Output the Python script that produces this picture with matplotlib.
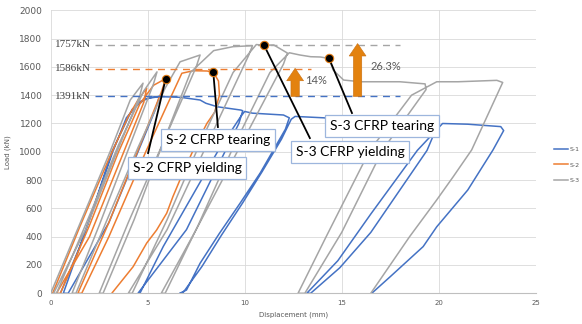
import matplotlib
matplotlib.use("Agg")
import matplotlib.pyplot as plt

# Load-displacement paths (x in mm, y in kN)
s1_x = [0.5, 1.5, 2.5, 3.2, 3.9, 4.6, 5.2, 5.6, 5.4, 3.0, 0.9, 0.65, 2.0, 3.15, 4.2, 4.9, 5.6, 6.7, 7.7,
        8.0, 8.6, 9.8, 9.9, 9.7, 7.0, 4.5, 4.6, 5.8, 8.6, 9.8, 10.0, 10.4, 12.0, 12.3, 12.1, 10.8, 9.76,
        8.7, 7.7, 7.0, 6.65, 6.8, 7.8, 8.8, 9.9, 10.9, 11.9, 12.4, 12.6, 14.1, 14.5, 16.0, 20.0, 19.4,
        16.5, 14.9, 13.4, 13.2, 14.8, 16.5, 18.9, 20.2, 21.5, 23.2, 23.35, 22.8, 21.5, 19.9, 19.2, 17.5,
        16.55]
s1_y = [0, 330, 720, 1000, 1240, 1355, 1385, 1391, 1300, 500, 0, 0, 520, 1000, 1300, 1375, 1390, 1385, 1366,
        1343, 1318, 1295, 1290, 1200, 450, 0, 0, 330, 1000, 1250, 1285, 1273, 1260, 1240, 1160, 850, 636,
        424, 212, 23, 0, 0, 190, 410, 640, 860, 1090, 1230, 1250, 1240, 1230, 1215, 1205, 1010,
        430, 180, 0, 0, 230, 560, 1010, 1200, 1195, 1178, 1150, 1013, 730, 470, 330, 117,
        0]

s2_x = [0.1, 1.5, 3.0, 4.0, 4.5, 4.95, 4.8, 2.0, 0.3, 0.5, 2.0, 3.5, 4.6, 5.3, 5.93, 5.7, 3.0, 1.4, 1.6,
        3.0, 4.9, 6.0, 6.76, 7.35, 8.05, 8.38, 8.65, 8.7, 8.45, 8.05, 7.35, 6.66, 6.3, 5.98, 5.46,
        4.95, 4.25, 3.15]
s2_y = [0, 470, 950, 1250, 1366, 1450, 1350, 400, 0, 0, 480, 1000, 1340, 1470, 1517, 1420, 500, 0, 0,
        400, 1000, 1330, 1555, 1573, 1571, 1564, 1500, 1400, 1280, 1200, 1013, 800, 683, 566, 447,
        355, 188, 0]

s3_x = [0.0, 1.5, 3.06, 4.1, 4.76, 4.6, 1.8, 0.15, 0.3, 2.0, 3.5, 4.8, 5.48, 5.3, 2.5, 1.1, 1.3, 3.0,
        4.5, 5.9, 6.67, 7.7, 7.5, 4.0, 2.5, 2.7, 4.3, 5.7, 7.2, 8.4, 9.4, 10.4, 10.2, 6.0, 4.0, 4.2,
        6.0, 7.6, 9.4, 10.6, 11.0, 11.5, 12.2, 12.0, 7.5, 5.7, 5.9, 7.6, 9.4, 11.3, 12.3, 12.85, 13.4,
        13.9, 14.35, 14.56, 15.1, 16.0, 18.0, 19.3, 19.35, 17.1, 15.0, 13.1, 12.75, 14.2, 16.45,
        18.6, 19.9, 21.0, 23.0, 23.3, 21.7, 20.75, 19.9, 18.5, 16.5]
s3_y = [0, 490, 1000, 1366, 1485, 1400, 450, 0, 0, 550, 1050, 1430, 1565, 1480, 480, 0, 0, 550,
        1030, 1450, 1636, 1684, 1600, 500, 0, 0, 520, 1030, 1560, 1715, 1743, 1750, 1680, 450, 0, 0,
        520, 1030, 1560, 1758, 1753, 1755, 1698, 1620, 450, 0, 0, 480, 1030, 1560, 1700, 1684, 1672,
        1670, 1660, 1578, 1507, 1495, 1495, 1480, 1440, 1010, 430, 0, 0, 400, 1010,
        1400, 1495, 1495, 1505, 1490, 1013, 824, 660, 400, 0]

series_names = ["S-1", "S-2", "S-3"]
series_colors = ["#4472C4", "#ED7D31", "#A5A5A5"]

# reference peak levels
peak_loads = [1391, 1586, 1757]
peak_labels = ["1391kN", "1586kN", "1757kN"]
peak_ends = [18.0, 13.4, 18.0]

# marked points and their callouts
event_x = [5.93, 8.38, 11.0, 14.35]
event_y = [1517, 1564, 1753, 1660]
event_text = ["S-2 CFRP yielding", "S-2 CFRP tearing", "S-3 CFRP yielding", "S-3 CFRP tearing"]
box_x = [7.03, 8.62, 15.43, 17.08]
box_y = [885, 1083, 998, 1182]
leader_x = [5.02, 8.62, 13.36, 15.53]
leader_y = [991, 1175, 1097, 1274]

# strength gain arrows
gain_x = [12.6, 15.82]
gain_top = [1590, 1765]
gain_text = ["14%", "26.3%"]
gain_text_x = [13.1, 16.5]
gain_text_y = [1502, 1601]

fig = plt.figure(figsize=(5.82, 3.24), dpi=100)
ax = fig.add_axes([0.0871, 0.0948, 0.8333, 0.8734])

for xs, ys, name, c in zip([s1_x, s2_x, s3_x], [s1_y, s2_y, s3_y], series_names, series_colors):
    ax.plot(xs, ys, color=c, lw=1.1, label=name, zorder=2)

for load, lab, xend, c in zip(peak_loads, peak_labels, peak_ends, series_colors):
    ax.plot([2.29, xend], [load, load], ls=(0, (5, 4)), color=c, lw=1.0, zorder=3)
    ax.text(2.1, load, lab, ha="right", va="center", fontsize=8,
            family="Liberation Serif", color="#404040", zorder=4)

for gx, top, t, tx, ty in zip(gain_x, gain_top, gain_text, gain_text_x, gain_text_y):
    ax.arrow(gx, 1391, 0, top - 1391, width=0.43, head_width=0.87, head_length=88,
             length_includes_head=True, color="#E3820F", ec="#C96F10", lw=0.4, zorder=4)
    ax.text(tx, ty, t, ha="left", va="center", fontsize=8, family="Lato", color="#595959", zorder=4)

for ex, ey, lx, ly in zip(event_x, event_y, leader_x, leader_y):
    ax.plot([ex, lx], [ey, ly], color="black", lw=1.3, zorder=5)

for t, bx, by in zip(event_text, box_x, box_y):
    ax.text(bx, by, t, ha="center", va="center", fontsize=10, family="Lato", color="black",
            zorder=6, bbox=dict(boxstyle="square,pad=0.33", fc="white", ec="#9DB6DD", lw=0.9))

ax.plot(event_x, event_y, "o", ms=6, mfc="black", mec="#E07B14", mew=0.8, ls="none", zorder=7)

ax.set_xlim(0, 25)
ax.set_ylim(0, 2000)
ax.set_xticks(range(0, 26, 5))
ax.set_yticks(range(0, 2001, 200))
ax.grid(True, color="#D9D9D9", lw=0.6, zorder=0)
ax.set_axisbelow(True)
for side in ["top", "right", "left"]:
    ax.spines[side].set_visible(False)
ax.spines["bottom"].set_color("#BFBFBF")
ax.tick_params(length=0, colors="#595959")
ax.tick_params(axis="y", labelsize=6.5, pad=6)
ax.tick_params(axis="x", labelsize=5, pad=5)
ax.set_xlabel("Displacement (mm)", fontsize=5, color="#595959", labelpad=4)
ax.set_ylabel("Load (kN)", fontsize=5, color="#595959", labelpad=6)

fig.legend(loc="center left", bbox_to_anchor=(0.943, 0.491), frameon=False, fontsize=4.5,
           handlelength=2.2, labelspacing=1.6, handletextpad=0.3, labelcolor="#595959")

fig.savefig("out.png", dpi=100)
